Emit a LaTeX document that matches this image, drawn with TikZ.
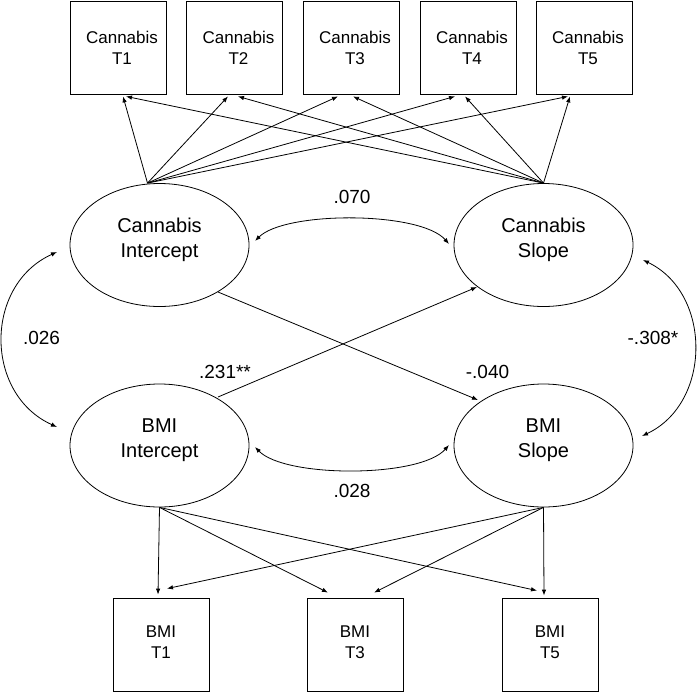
\documentclass[tikz,border=0pt]{standalone}
\usepackage{fontspec}
\setmainfont{Liberation Sans}
\usetikzlibrary{shapes.geometric,arrows.meta,calc}
\begin{document}
\begin{tikzpicture}[x=1pt,y=-1pt,
  line width=0.8pt,
  box/.style={draw,rectangle,minimum width=96pt,minimum height=93pt,inner sep=0pt},
  boxtext/.style={align=center,font=\fontsize{17}{21}\selectfont,inner sep=0pt},
  latent/.style={draw,ellipse,minimum width=179pt,minimum height=123pt,inner sep=0pt},
  latenttext/.style={align=center,font=\fontsize{20}{25}\selectfont,inner sep=0pt},
  lab/.style={font=\fontsize{19}{23}\selectfont,inner sep=0pt},
  arr/.style={-{Latex[length=6pt,width=4.5pt]}},
  dblarr/.style={{Latex[length=6pt,width=4.5pt]}-{Latex[length=6pt,width=4.5pt]}}
]
\useasboundingbox (0,0) rectangle (700,693);

% top boxes
\node[box] (c1) at (118,47.5) {};
\node[box] (c2) at (234.5,47.5) {};
\node[box] (c3) at (351,47.5) {};
\node[box] (c4) at (468,47.5) {};
\node[box] (c5) at (584,47.5) {};
\node[boxtext] (c1t) at ($(c1)+(4,0)$) {Cannabis\\T1};
\node[boxtext] (c2t) at ($(c2)+(4,0)$) {Cannabis\\T2};
\node[boxtext] (c3t) at ($(c3)+(4,0)$) {Cannabis\\T3};
\node[boxtext] (c4t) at ($(c4)+(4,0)$) {Cannabis\\T4};
\node[boxtext] (c5t) at ($(c5)+(4,0)$) {Cannabis\\T5};

% bottom boxes
\node[box] (b1) at (161,644.5) {};
\node[box] (b3) at (355,644.5) {};
\node[box] (b5) at (550,644.5) {};
\node[boxtext] (b1t) at ($(b1)+(0,-2)$) {BMI\\T1};
\node[boxtext] (b3t) at ($(b3)+(0,-2)$) {BMI\\T3};
\node[boxtext] (b5t) at ($(b5)+(0,-2)$) {BMI\\T5};

% latent variables
\node[latent] (ci) at (159.5,245) {};
\node[latent] (cs) at (543.5,245) {};
\node[latent] (bi) at (159.5,445.5) {};
\node[latent] (bs) at (543.5,445.5) {};
\node[latenttext] (cit) at ($(ci)+(0,-5)$) {Cannabis\\Intercept};
\node[latenttext] (cst) at ($(cs)+(0,-5)$) {Cannabis\\Slope};
\node[latenttext] (bit) at ($(bi)+(0,-5)$) {BMI\\Intercept};
\node[latenttext] (bst) at ($(bs)+(0,-5)$) {BMI\\Slope};

% origins of loading arrows
\coordinate (cio) at ($(ci.north)+(-12,0)$);
\coordinate (cso) at (cs.north);
\coordinate (bio) at (bi.south);
\coordinate (bso) at (bs.south);

% cannabis loadings
\draw[arr] (cio) -- ($(c1.south)+(5,2)$);
\draw[arr] (cio) -- ($(c2.south)+(-6.5,2)$);
\draw[arr] (cio) -- ($(c3.south)+(-13,2)$);
\draw[arr] (cio) -- ($(c4.south)+(-13,2)$);
\draw[arr] (cio) -- ($(c5.south)+(-16,2)$);
\draw[arr] (cso) -- ($(c1.south)+(8,2)$);
\draw[arr] (cso) -- ($(c2.south)+(3.5,2)$);
\draw[arr] (cso) -- ($(c3.south)+(2,2)$);
\draw[arr] (cso) -- ($(c4.south)+(-3,2)$);
\draw[arr] (cso) -- ($(c5.south)+(-14,2)$);

% BMI loadings
\draw[arr] (bio) -- ($(b1.north)+(-3,-3)$);
\draw[arr] (bio) -- ($(b3.north)+(-27,-5)$);
\draw[arr] (bio) -- ($(b5.north)+(-13,-7)$);
\draw[arr] (bso) -- ($(b1.north)+(6,-9)$);
\draw[arr] (bso) -- ($(b3.north)+(19,-5)$);
\draw[arr] (bso) -- ($(b5.north)+(-6,-2)$);

% cross-lagged paths
\coordinate (cis) at (218,292);
\coordinate (bsn) at (478,400);
\coordinate (bin) at (218,397);
\coordinate (csw) at (477,287);
\draw[arr] (cis) -- (bsn);
\draw[arr] (bin) -- (csw);

% covariances
\coordinate (ciE) at (255,241);
\coordinate (csW) at (449,244);
\draw[dblarr] (ciE) .. controls (285,211) and (420,211) .. (csW);
\coordinate (biE) at (255,447);
\coordinate (bsW) at (449,445);
\draw[dblarr] (biE) .. controls (285,478) and (420,478) .. (bsW);
\coordinate (ciW) at (57,252);
\coordinate (biW) at (57,427);
\draw[dblarr] (ciW) .. controls (-16,285) and (-16,394) .. (biW);
\coordinate (csE) at (643,260);
\coordinate (bsE) at (642,436);
\draw[dblarr] (csE) .. controls (712,293) and (712,403) .. (bsE);

% labels
\node[lab] (l070) at (352,197) {.070};
\node[lab] (l028) at (352,491) {.028};
\node[lab] (l026) at (41.5,338) {.026};
\node[lab] (l308) at (653,338) {-.308*};
\node[lab] (l231) at (225,372) {.231**};
\node[lab] (l040) at (487.5,372) {-.040};
\end{tikzpicture}
\end{document}
